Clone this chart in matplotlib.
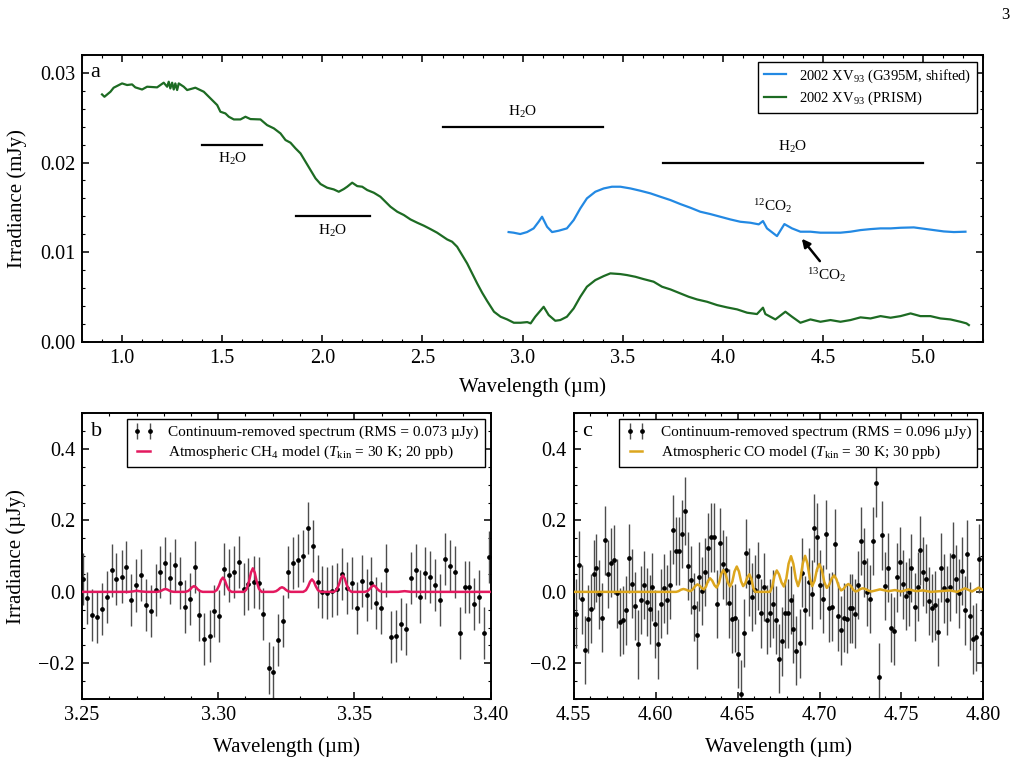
import matplotlib
matplotlib.use("Agg")
import matplotlib.pyplot as plt
from matplotlib.ticker import MultipleLocator

plt.rcParams.update({
    'font.family': ['Liberation Serif', 'DejaVu Serif'],
    'mathtext.fontset': 'custom',
    'mathtext.rm': 'Liberation Serif',
    'mathtext.it': 'Liberation Serif:italic',
    'mathtext.bf': 'Liberation Serif:bold',
    'xtick.direction': 'in', 'ytick.direction': 'in',
    'xtick.top': True, 'ytick.right': True,
    'xtick.major.size': 5, 'ytick.major.size': 5,
    'xtick.minor.size': 2.5, 'ytick.minor.size': 2.5,
    'xtick.major.width': 1.1, 'ytick.major.width': 1.1,
    'xtick.minor.width': 0.8, 'ytick.minor.width': 0.8,
    'axes.linewidth': 1.4,
    'xtick.labelsize': 14.5, 'ytick.labelsize': 14.5,
    'axes.labelsize': 15,
    'axes.labelpad': 7,
    'xtick.major.pad': 5, 'ytick.major.pad': 5,
})

# ---------------- Panel a data ----------------
prism_wl = [0.900, 0.912, 0.942, 0.958, 1.000, 1.025, 1.050, 1.066, 1.100, 1.125,
            1.175, 1.208, 1.225, 1.233, 1.241, 1.250, 1.258, 1.266, 1.275, 1.283,
            1.308, 1.325, 1.366, 1.408, 1.433, 1.458, 1.475, 1.491, 1.516, 1.533,
            1.558, 1.591, 1.616, 1.641, 1.691, 1.724, 1.758, 1.791, 1.816, 1.841,
            1.866, 1.891, 1.916, 1.941, 1.966, 1.991, 2.024, 2.057, 2.082, 2.107,
            2.124, 2.149, 2.174, 2.199, 2.224, 2.257, 2.290, 2.315, 2.340, 2.374,
            2.407, 2.440, 2.474, 2.507, 2.540, 2.573, 2.598, 2.623, 2.648, 2.673,
            2.698, 2.723, 2.748, 2.773, 2.798, 2.823, 2.857, 2.890, 2.923, 2.956,
            2.990, 3.023, 3.040, 3.063, 3.088, 3.105, 3.130, 3.163, 3.188, 3.221,
            3.255, 3.288, 3.321, 3.363, 3.405, 3.438, 3.488, 3.521, 3.563, 3.604,
            3.654, 3.696, 3.738, 3.788, 3.829, 3.871, 3.921, 3.971, 4.021, 4.071,
            4.121, 4.170, 4.200, 4.212, 4.262, 4.312, 4.345, 4.387, 4.437, 4.487,
            4.537, 4.587, 4.637, 4.687, 4.737, 4.787, 4.837, 4.887, 4.937, 4.986,
            5.036, 5.086, 5.136, 5.186, 5.216, 5.228]
prism_flux = [0.02760, 0.02734, 0.02790, 0.02835, 0.02883, 0.02865, 0.02872, 0.02839, 0.02815, 0.02846,
              0.02839, 0.02891, 0.02846, 0.02902, 0.02827, 0.02891, 0.02815, 0.02883, 0.02809, 0.02883,
              0.02846, 0.02809, 0.02835, 0.02790, 0.02734, 0.02679, 0.02641, 0.02567, 0.02548, 0.02511,
              0.02481, 0.02481, 0.02511, 0.02485, 0.02481, 0.02418, 0.02381, 0.02325, 0.02251, 0.02221,
              0.02158, 0.02102, 0.02009, 0.01916, 0.01823, 0.01760, 0.01719, 0.01700, 0.01674, 0.01704,
              0.01730, 0.01775, 0.01737, 0.01730, 0.01693, 0.01663, 0.01618, 0.01562, 0.01507, 0.01451,
              0.01414, 0.01365, 0.01328, 0.01295, 0.01257, 0.01217, 0.01179, 0.01142, 0.01116, 0.01060,
              0.00967, 0.00874, 0.00763, 0.00651, 0.00547, 0.00454, 0.00335, 0.00279, 0.00249, 0.00212,
              0.00212, 0.00219, 0.00205, 0.00279, 0.00346, 0.00390, 0.00298, 0.00234, 0.00242, 0.00279,
              0.00372, 0.00502, 0.00614, 0.00688, 0.00733, 0.00763, 0.00755, 0.00744, 0.00725, 0.00699,
              0.00670, 0.00614, 0.00584, 0.00539, 0.00502, 0.00472, 0.00446, 0.00409, 0.00383, 0.00361,
              0.00324, 0.00309, 0.00380, 0.00309, 0.00249, 0.00335, 0.00279, 0.00212, 0.00249, 0.00223,
              0.00242, 0.00223, 0.00242, 0.00272, 0.00260, 0.00286, 0.00268, 0.00286, 0.00316, 0.00286,
              0.00286, 0.00260, 0.00249, 0.00223, 0.00205, 0.00186]

g395m_wl = [2.930, 2.955, 2.988, 3.022, 3.055, 3.080, 3.097, 3.122, 3.147, 3.180,
            3.221, 3.255, 3.288, 3.321, 3.363, 3.405, 3.446, 3.488, 3.538, 3.588,
            3.638, 3.688, 3.738, 3.788, 3.837, 3.887, 3.937, 3.987, 4.037, 4.087,
            4.137, 4.179, 4.200, 4.220, 4.270, 4.307, 4.345, 4.387, 4.437, 4.487,
            4.537, 4.587, 4.637, 4.687, 4.737, 4.787, 4.837, 4.887, 4.953, 5.003,
            5.053, 5.103, 5.153, 5.211]
g395m_flux = [0.01224, 0.01217, 0.01202, 0.01224, 0.01265, 0.01339, 0.01395, 0.01283, 0.01224, 0.01239,
              0.01265, 0.01358, 0.01488, 0.01600, 0.01674, 0.01711, 0.01730, 0.01730, 0.01711, 0.01685,
              0.01656, 0.01618, 0.01581, 0.01536, 0.01496, 0.01451, 0.01425, 0.01395, 0.01365, 0.01339,
              0.01328, 0.01310, 0.01347, 0.01265, 0.01179, 0.01313, 0.01265, 0.01228, 0.01228, 0.01217,
              0.01217, 0.01217, 0.01228, 0.01246, 0.01257, 0.01265, 0.01265, 0.01272, 0.01276, 0.01261,
              0.01246, 0.01231, 0.01224, 0.01228]

# H2O band bars: (start, end, y of bar, label x, label y)
h2o_start = [1.40, 1.87, 2.60, 3.70]
h2o_end = [1.70, 2.24, 3.40, 5.00]
h2o_bar_y = [0.0220, 0.0140, 0.0240, 0.0200]
h2o_label_x = [1.55, 2.05, 3.00, 4.35]
h2o_label_y = [0.0204, 0.0124, 0.0257, 0.0217]

# ---------------- Panel b data ----------------
ch4_wl = [3.2502, 3.2520, 3.2538, 3.2555, 3.2573, 3.2590, 3.2609, 3.2626, 3.2645, 3.2662,
          3.2680, 3.2698, 3.2717, 3.2734, 3.2752, 3.2770, 3.2788, 3.2806, 3.2823, 3.2842,
          3.2860, 3.2877, 3.2896, 3.2914, 3.2931, 3.2949, 3.2968, 3.2986, 3.3003, 3.3022,
          3.3039, 3.3057, 3.3076, 3.3093, 3.3111, 3.3130, 3.3148, 3.3166, 3.3185, 3.3202,
          3.3220, 3.3239, 3.3257, 3.3274, 3.3293, 3.3310, 3.3328, 3.3346, 3.3365, 3.3382,
          3.3400, 3.3419, 3.3436, 3.3454, 3.3473, 3.3490, 3.3508, 3.3527, 3.3545, 3.3562,
          3.3580, 3.3597, 3.3616, 3.3634, 3.3652, 3.3670, 3.3688, 3.3707, 3.3724, 3.3742,
          3.3760, 3.3778, 3.3796, 3.3814, 3.3832, 3.3850, 3.3868, 3.3887, 3.3904, 3.3922,
          3.3940, 3.3958, 3.3976, 3.3994]
ch4_resid = [0.036, -0.018, -0.064, -0.070, -0.047, -0.015, 0.060, 0.035, 0.043, 0.070,
             -0.023, 0.018, 0.047, -0.038, -0.053, 0.004, 0.055, 0.081, 0.040, 0.076,
             0.025, -0.041, -0.020, 0.070, -0.065, -0.132, -0.123, -0.053, -0.067, 0.063,
             0.046, 0.056, 0.083, 0.008, 0.022, 0.028, 0.026, -0.062, -0.213, -0.225,
             -0.135, -0.081, 0.056, 0.081, 0.088, 0.100, 0.180, 0.128, 0.029, -0.001,
             -0.004, 0.003, 0.007, 0.049, 0.012, 0.025, -0.044, 0.030, -0.008, 0.026,
             -0.030, -0.046, 0.060, -0.126, -0.124, -0.089, -0.105, 0.039, 0.060, -0.013,
             0.052, 0.041, 0.020, -0.024, 0.092, 0.073, 0.056, -0.114, 0.013, 0.014,
             -0.033, -0.013, -0.114, 0.097]
ch4_err = 0.073

ch4_model_wl = [3.2500, 3.2670, 3.2687, 3.2701, 3.2715, 3.2735,
                3.2774, 3.2784, 3.2792, 3.2799, 3.2806, 3.2813, 3.2820, 3.2828, 3.2838,
                3.2879, 3.2889, 3.2897, 3.2904, 3.2911, 3.2918, 3.2925, 3.2933, 3.2943,
                3.2985, 3.2995, 3.3003, 3.3010, 3.3017, 3.3024, 3.3031, 3.3039, 3.3049,
                3.3095, 3.3105, 3.3113, 3.3120, 3.3127, 3.3134, 3.3141, 3.3149, 3.3159,
                3.3202, 3.3212, 3.3220, 3.3227, 3.3234, 3.3241, 3.3248, 3.3256, 3.3266,
                3.3312, 3.3322, 3.3330, 3.3337, 3.3344, 3.3351, 3.3358, 3.3366, 3.3376,
                3.3425, 3.3435, 3.3443, 3.3450, 3.3457, 3.3464, 3.3471, 3.3479, 3.3489,
                3.3538, 3.3548, 3.3556, 3.3563, 3.3570, 3.3577, 3.3584, 3.3592, 3.3602,
                3.3660, 3.3684, 3.3708, 3.4000]
ch4_model = [0.0, 0.0, 0.0013, 0.0030, 0.0013, 0.0,
             0.0, 0.0011, 0.0036, 0.0065, 0.0080, 0.0065, 0.0036, 0.0011, 0.0,
             0.0, 0.0022, 0.0071, 0.0131, 0.0160, 0.0131, 0.0071, 0.0022, 0.0,
             0.0, 0.0054, 0.0178, 0.0327, 0.0400, 0.0327, 0.0178, 0.0054, 0.0,
             0.0, 0.0089, 0.0294, 0.0539, 0.0660, 0.0539, 0.0294, 0.0089, 0.0,
             0.0, 0.0018, 0.0058, 0.0106, 0.0130, 0.0106, 0.0058, 0.0018, 0.0,
             0.0, 0.0047, 0.0156, 0.0286, 0.0350, 0.0286, 0.0156, 0.0047, 0.0,
             0.0, 0.0062, 0.0205, 0.0376, 0.0460, 0.0376, 0.0205, 0.0062, 0.0,
             0.0, 0.0024, 0.0080, 0.0147, 0.0180, 0.0147, 0.0080, 0.0024, 0.0,
             0.0, 0.0020, 0.0, 0.0]

# ---------------- Panel c data ----------------
co_wl = [4.5514, 4.5533, 4.5551, 4.5567, 4.5585, 4.5604, 4.5622, 4.5638, 4.5657, 4.5675,
         4.5693, 4.5712, 4.5730, 4.5748, 4.5766, 4.5785, 4.5803, 4.5819, 4.5838, 4.5856,
         4.5874, 4.5893, 4.5909, 4.5927, 4.5945, 4.5964, 4.5980, 4.5998, 4.6017, 4.6035,
         4.6053, 4.6072, 4.6090, 4.6106, 4.6124, 4.6143, 4.6161, 4.6179, 4.6196, 4.6214,
         4.6232, 4.6251, 4.6267, 4.6285, 4.6303, 4.6322, 4.6340, 4.6356,
         4.6374, 4.6393, 4.6411, 4.6427, 4.6446, 4.6464, 4.6482, 4.6500, 4.6519, 4.6537,
         4.6553, 4.6572, 4.6590, 4.6608, 4.6627, 4.6645, 4.6661, 4.6680, 4.6698, 4.6716,
         4.6735, 4.6751, 4.6770, 4.6788, 4.6806, 4.6825, 4.6841, 4.6859, 4.6878, 4.6896,
         4.6914, 4.6933, 4.6951, 4.6967, 4.6985, 4.7004, 4.7022, 4.7040, 4.7057, 4.7075,
         4.7093, 4.7112, 4.7128, 4.7147, 4.7165, 4.7183,
         4.7200, 4.7219, 4.7235, 4.7253, 4.7271, 4.7289, 4.7307, 4.7326, 4.7344, 4.7362,
         4.7381, 4.7400, 4.7418, 4.7434, 4.7452, 4.7471, 4.7489, 4.7507, 4.7526, 4.7545,
         4.7561, 4.7580, 4.7598, 4.7616, 4.7633, 4.7651, 4.7669, 4.7688, 4.7706, 4.7722,
         4.7741, 4.7759, 4.7777, 4.7796, 4.7812, 4.7830, 4.7849, 4.7867, 4.7886, 4.7902,
         4.7920, 4.7939, 4.7957, 4.7975, 4.7994]
co_resid = [-0.061, 0.075, -0.021, -0.163, -0.076, -0.047, 0.049, 0.067, -0.007, -0.072,
            0.144, 0.050, 0.082, 0.090, -0.004, -0.084, -0.079, -0.052, 0.094, 0.023,
            -0.040, -0.147, -0.023, 0.019, -0.029, -0.049, 0.014, -0.090, -0.147, -0.033,
            0.010, -0.022, 0.020, 0.174, 0.114, 0.114, 0.162, 0.226, 0.073, 0.033,
            -0.042, -0.121, 0.043, 0.002, 0.056, 0.124, 0.153, 0.153,
            -0.034, 0.138, 0.077, 0.060, -0.032, -0.076, -0.073, -0.173, -0.286, -0.115,
            0.108, 0.027, -0.014, 0.006, 0.045, -0.060, 0.013, -0.078, -0.059, -0.034,
            -0.079, -0.187, -0.139, -0.060, -0.060, -0.023, -0.103, -0.165, -0.144, 0.054,
            -0.052, 0.028, -0.007, 0.179, 0.154, 0.020, -0.020, 0.161, -0.044, -0.041,
            0.135, -0.069, -0.108, -0.072, -0.076, -0.046,
            -0.046, -0.061, 0.019, 0.143, 0.083, 0.000, -0.020, 0.143, 0.305, -0.238,
            0.158, 0.017, 0.068, -0.100, -0.110, 0.041, 0.085, 0.021, -0.012, 0.000,
            0.067, -0.043, 0.015, 0.116, 0.057, 0.037, -0.025, -0.045, -0.038, -0.112,
            0.068, 0.010, -0.024, 0.013, 0.100, 0.036, -0.004, 0.058, -0.052, 0.106,
            -0.068, -0.133, -0.127, 0.093, -0.115]
co_err = 0.096

co_model_wl = [4.5500, 4.6125, 4.6140, 4.6154, 4.6169, 4.6183, 4.6198, 4.6212,
               4.6226, 4.6241, 4.6255, 4.6268, 4.6281, 4.6294, 4.6307, 4.6319, 4.6332,
               4.6345, 4.6359, 4.6372, 4.6386, 4.6399, 4.6413, 4.6427, 4.6440, 4.6454,
               4.6468, 4.6481, 4.6495, 4.6508, 4.6521, 4.6534, 4.6547, 4.6559, 4.6572,
               4.6584, 4.6595, 4.6607, 4.6698, 4.6712, 4.6725, 4.6739, 4.6753, 4.6768,
               4.6782, 4.6797, 4.6811, 4.6826, 4.6840, 4.6855, 4.6869, 4.6883, 4.6898,
               4.6912, 4.6926, 4.6941, 4.6955, 4.6970, 4.6984, 4.6999, 4.7014, 4.7029,
               4.7044, 4.7059, 4.7074, 4.7089, 4.7103, 4.7118, 4.7132, 4.7147, 4.7161,
               4.7176, 4.7191, 4.7205, 4.7220, 4.7235, 4.7249, 4.7264, 4.7281, 4.7299,
               4.7316, 4.7369, 4.7420, 4.7460, 4.7500, 4.7542, 4.7590, 4.7630, 4.7680,
               4.7796, 4.7840, 4.7888, 4.7930, 4.7971, 4.8000]
co_model = [0.0, 0.0, 0.0020, 0.0060, 0.0080, 0.0065, 0.0035, 0.0020,
            0.0068, 0.0163, 0.0210, 0.0175, 0.0105, 0.0070, 0.0148, 0.0303, 0.0380,
            0.0315, 0.0185, 0.0120, 0.0243, 0.0488, 0.0610, 0.0495, 0.0265, 0.0150,
            0.0290, 0.0570, 0.0710, 0.0573, 0.0298, 0.0160, 0.0243, 0.0408, 0.0490,
            0.0368, 0.0123, 0.0000, 0.0000, 0.0150, 0.0450, 0.0600, 0.0488, 0.0263,
            0.0150, 0.0363, 0.0788, 0.1000, 0.0790, 0.0370, 0.0160, 0.0373, 0.0798,
            0.1010, 0.0798, 0.0373, 0.0160, 0.0315, 0.0625, 0.0780, 0.0613, 0.0278,
            0.0110, 0.0198, 0.0373, 0.0460, 0.0355, 0.0145, 0.0040, 0.0085, 0.0175,
            0.0220, 0.0168, 0.0063, 0.0010, 0.0033, 0.0078, 0.0100, 0.0078, 0.0033,
            0.0010, 0.0070, 0.0020, 0.0050, 0.0010, 0.0070, 0.0020, 0.0040, 0.0000,
            0.0040, 0.0000, 0.0100, 0.0010, 0.0120, 0.0050]

# ---------------- Colours ----------------
c_prism = '#1d6b23'
c_g395m = '#2389e3'
c_ch4 = '#e3195f'
c_co = '#dca61e'

fig = plt.figure(figsize=(10.2, 7.64), dpi=100)
axa = fig.add_axes([0.0804, 0.5527, 0.8836, 0.3753])
axb = fig.add_axes([0.0804, 0.0851, 0.4007, 0.3739])
axc = fig.add_axes([0.5625, 0.0851, 0.4016, 0.3739])

# ---- Panel a ----
axa.plot(g395m_wl, g395m_flux, color=c_g395m, lw=1.6, label=r'2002 XV$_{93}$ (G395M, shifted)')
axa.plot(prism_wl, prism_flux, color=c_prism, lw=1.6, label=r'2002 XV$_{93}$ (PRISM)')
for s, e, yb, lx, ly in zip(h2o_start, h2o_end, h2o_bar_y, h2o_label_x, h2o_label_y):
    axa.plot([s, e], [yb, yb], color='k', lw=1.6)
    axa.text(lx, ly, r'H$_2$O', ha='center', va='center', fontsize=11)
axa.text(4.25, 0.0151, r'$^{12}$CO$_2$', ha='center', va='center', fontsize=11)
axa.text(4.52, 0.0075, r'$^{13}$CO$_2$', ha='center', va='center', fontsize=11)
axa.annotate('', xy=(4.394, 0.0115), xytext=(4.484, 0.0090),
             arrowprops=dict(arrowstyle='-|>', color='k', lw=1.8, mutation_scale=12,
                             shrinkA=0, shrinkB=0))
axa.set_xlim(0.8, 5.3)
axa.set_ylim(0.0, 0.032)
axa.xaxis.set_major_locator(MultipleLocator(0.5))
axa.xaxis.set_minor_locator(MultipleLocator(0.1))
axa.yaxis.set_major_locator(MultipleLocator(0.01))
axa.yaxis.set_minor_locator(MultipleLocator(0.002))
axa.set_xlabel('Wavelength (µm)', labelpad=7)
axa.set_ylabel('Irradiance (mJy)', labelpad=9)
axa.text(0.0096, 0.922, 'a', transform=axa.transAxes, fontsize=16, va='baseline', ha='left')
leg = axa.legend(loc='upper right', fontsize=10.5, frameon=True, fancybox=False,
                 edgecolor='k', framealpha=1, handlelength=1.5, handletextpad=0.9,
                 borderaxespad=0.45, labelspacing=0.35)
leg.get_frame().set_linewidth(1.0)

# ---- Panels b, c ----
def resid_panel(ax, wl, res, err, mwl, mflux, mcolor, lab_model, lab_data, letter, xlim):
    eb = ax.errorbar(wl, res, yerr=err, fmt='o', ms=2.4, mfc='k', mec='k',
                     ecolor='0.3', elinewidth=1.0, capsize=0, zorder=2)
    ln, = ax.plot(mwl, mflux, color=mcolor, lw=1.8, zorder=3)
    ax.set_xlim(*xlim)
    ax.set_ylim(-0.3, 0.5)
    ax.xaxis.set_major_locator(MultipleLocator(0.05))
    ax.xaxis.set_minor_locator(MultipleLocator(0.01))
    ax.yaxis.set_major_locator(MultipleLocator(0.2))
    ax.yaxis.set_minor_locator(MultipleLocator(0.05))
    ax.set_xlabel('Wavelength (µm)', labelpad=9)
    ax.text(0.021, 0.92, letter, transform=ax.transAxes, fontsize=16, va='baseline', ha='left')
    lg = ax.legend([eb, ln], [lab_data, lab_model], loc='upper right', fontsize=11,
                   numpoints=2, frameon=True, fancybox=False, edgecolor='k', framealpha=1,
                   handlelength=1.4, handletextpad=0.9, borderaxespad=0.4, labelspacing=0.3)
    lg.get_frame().set_linewidth(1.0)

resid_panel(axb, ch4_wl, ch4_resid, ch4_err, ch4_model_wl, ch4_model, c_ch4,
            r'Atmospheric CH$_4$ model ($T_{\rm kin}$ = 30 K; 20 ppb)',
            'Continuum-removed spectrum (RMS = 0.073 µJy)', 'b', (3.25, 3.40))
resid_panel(axc, co_wl, co_resid, co_err, co_model_wl, co_model, c_co,
            r'Atmospheric CO model ($T_{\rm kin}$ = 30 K; 30 ppb)',
            'Continuum-removed spectrum (RMS = 0.096 µJy)', 'c', (4.55, 4.80))
axb.set_ylabel('Irradiance (µJy)', labelpad=9)

fig.text(1005 / 1020, 1 - 15 / 764, '3', ha='center', va='center', fontsize=12)

fig.savefig('out.png', dpi=100)
